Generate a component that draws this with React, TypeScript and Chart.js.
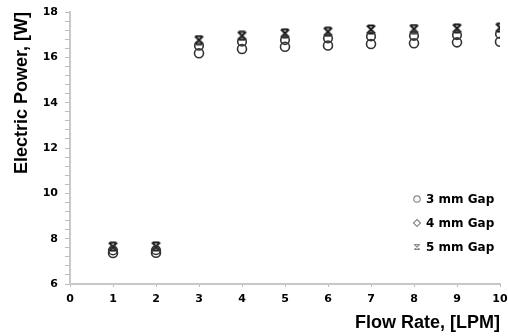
import { useEffect, useRef } from "react";
import { Chart, registerables } from "chart.js";

Chart.register(...registerables);

// ---- data ----
const flowRate = [1, 2, 3, 4, 5, 6, 7, 8, 9, 10];
const gap3mm = [7.37, 7.38, 16.18, 16.37, 16.47, 16.52, 16.59, 16.62, 16.66, 16.69];
const gap4mm = [7.48, 7.49, 16.51, 16.69, 16.76, 16.84, 16.92, 16.95, 16.98, 17.03];
const gap5mm = [7.65, 7.66, 16.76, 16.95, 17.06, 17.13, 17.23, 17.25, 17.28, 17.31];
const seriesLabels = ["3 mm Gap", "4 mm Gap", "5 mm Gap"];
const xTitle = "Flow Rate, [LPM]";
const yTitle = "Electric Power, [W]";
const xMin = 0;
const xMax = 10;
const xStep = 1;
const yMin = 6;
const yMax = 18;
const yMajorStep = 2;
const yMinorStep = 0.4;

const TICK_FONT = { family: "'DejaVu Sans', sans-serif", size: 11, weight: "bold" as const };
const TITLE_FONT = { family: "'Liberation Sans', Arial, sans-serif", size: 18, weight: "bold" as const };

function makeHourglassX(size: number, color: string, lw: number): HTMLCanvasElement {
  const c = document.createElement("canvas");
  c.width = size;
  c.height = size;
  const g = c.getContext("2d")!;
  g.strokeStyle = color;
  g.lineWidth = lw;
  g.lineCap = "butt";
  const a = 1.5;
  const b = size - 1.5;
  const m = size / 2;
  g.beginPath();
  g.moveTo(a, a);
  g.lineTo(b, b);
  g.moveTo(b, a);
  g.lineTo(a, b);
  g.moveTo(m - 3, a);
  g.lineTo(m + 3, a);
  g.moveTo(m - 3, b);
  g.lineTo(m + 3, b);
  g.stroke();
  return c;
}

export default function App() {
  const ref = useRef<HTMLCanvasElement>(null);

  useEffect(() => {
    const canvas = ref.current;
    if (!canvas) return;

    const starMarker = makeHourglassX(11, "#1a1a1a", 2);
    const legendStar = makeHourglassX(8, "#8a8a8a", 1.2);

    const toPoints = (vals: number[]) => flowRate.map((x, i) => ({ x, y: vals[i] }));

    const legendPlugin = {
      id: "insideLegend",
      afterDatasetsDraw(chart: any) {
        const ctx = chart.ctx as CanvasRenderingContext2D;
        const ca = chart.chartArea;
        const mx = ca.right - 83;
        const tx = ca.right - 74;
        const rows = [ca.top + 187, ca.top + 211, ca.top + 235];
        ctx.save();
        ctx.font = "bold 12px 'DejaVu Sans', sans-serif";
        ctx.fillStyle = "#000";
        ctx.textAlign = "left";
        ctx.textBaseline = "middle";
        ctx.strokeStyle = "#8a8a8a";
        ctx.lineWidth = 1.2;
        ctx.beginPath();
        ctx.arc(mx, rows[0], 3.2, 0, Math.PI * 2);
        ctx.stroke();
        ctx.beginPath();
        ctx.moveTo(mx, rows[1] - 3.5);
        ctx.lineTo(mx + 3.5, rows[1]);
        ctx.lineTo(mx, rows[1] + 3.5);
        ctx.lineTo(mx - 3.5, rows[1]);
        ctx.closePath();
        ctx.stroke();
        ctx.drawImage(legendStar, mx - 4, rows[2] - 4);
        seriesLabels.forEach((t, i) => ctx.fillText(t, tx, rows[i] + 0.5));
        ctx.restore();
      },
    };

    const chart = new Chart(canvas, {
      type: "scatter",
      data: {
        datasets: [
          {
            label: seriesLabels[0],
            data: toPoints(gap3mm),
            pointStyle: "circle",
            pointRadius: 4.5,
            pointBorderWidth: 1.6,
            borderColor: "#333",
            backgroundColor: "rgba(0,0,0,0)",
          },
          {
            label: seriesLabels[1],
            data: toPoints(gap4mm),
            pointStyle: "circle",
            pointRadius: 4.3,
            pointBorderWidth: 1.6,
            borderColor: "#333",
            backgroundColor: "rgba(0,0,0,0)",
          },
          {
            label: seriesLabels[2],
            data: toPoints(gap5mm),
            pointStyle: starMarker as any,
            pointRadius: 5,
            borderColor: "#1a1a1a",
            backgroundColor: "#1a1a1a",
          },
        ],
      },
      options: {
        responsive: false,
        animation: false,
        events: [],
        layout: { padding: { top: 12, right: 8, left: 0, bottom: 0 } },
        plugins: {
          legend: { display: false },
          tooltip: { enabled: false },
        },
        scales: {
          x: {
            type: "linear",
            min: xMin,
            max: xMax,
            ticks: { stepSize: xStep, font: TICK_FONT, color: "#000", padding: 6 },
            grid: { drawOnChartArea: false, tickLength: 3, color: "#bdbdbd" },
            border: { color: "#c8c8c8", width: 2 },
            title: {
              display: true,
              text: xTitle,
              align: "end",
              color: "#000",
              font: TITLE_FONT,
              padding: { top: 0, bottom: 2 },
            },
            afterFit(scale: any) {
              scale.height = 52;
              scale.paddingLeft = 0;
              scale.paddingRight = 0;
            },
          },
          y: {
            type: "linear",
            min: yMin,
            max: yMax,
            ticks: {
              stepSize: yMinorStep,
              autoSkip: false,
              font: TICK_FONT,
              color: "#000",
              padding: 7,
              callback: (v: any) => {
                const n = Number(v);
                const r = n / yMajorStep;
                return Math.abs(r - Math.round(r)) < 1e-6 ? String(Math.round(n)) : "";
              },
            },
            grid: { drawOnChartArea: false, tickLength: 5, color: "#bdbdbd" },
            border: { color: "#c8c8c8", width: 2 },
            title: {
              display: true,
              text: yTitle,
              align: "end",
              color: "#000",
              font: TITLE_FONT,
              padding: { top: 11, bottom: 0 },
            },
            afterFit(scale: any) {
              scale.width = 70;
              scale.paddingTop = 0;
              scale.paddingBottom = 0;
            },
          },
        },
      },
      plugins: [legendPlugin],
    });

    return () => chart.destroy();
  }, []);

  return (
    <canvas
      ref={ref}
      width={508}
      height={336}
      style={{ position: "absolute", left: 0, top: 0, display: "block" }}
    />
  );
}
